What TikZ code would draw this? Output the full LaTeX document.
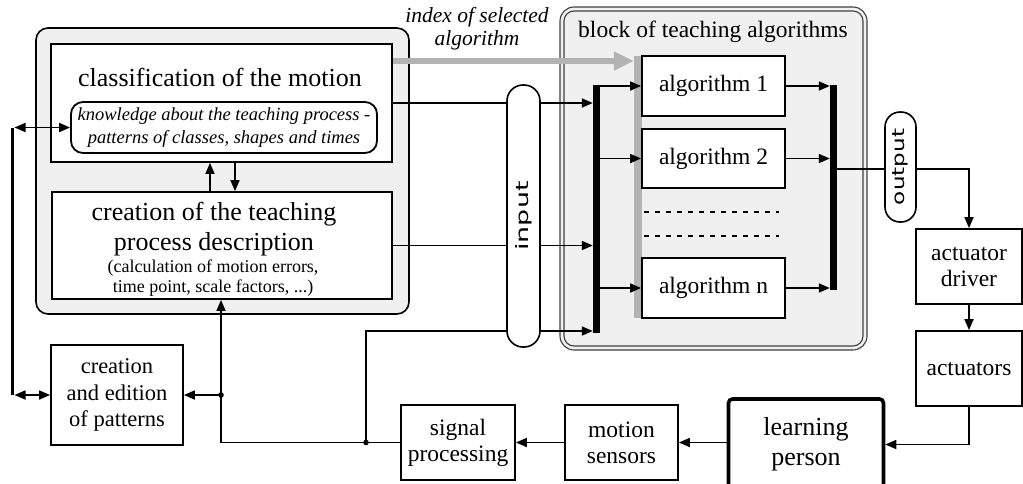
\documentclass[tikz,border=0pt]{standalone}
\usepackage{fontspec}
\usepackage{graphicx}
\setmainfont{Liberation Serif}
\newfontfamily\pillfont{DejaVu Sans}
\usetikzlibrary{arrows.meta}
\definecolor{panel}{HTML}{F0F0F0}
\definecolor{selgray}{HTML}{B3B3B3}
\newcommand\bigtxt{\fontsize{26}{30}\selectfont}
\newcommand\midtxt{\fontsize{23.5}{26}\selectfont}
\newcommand\smltxt{\fontsize{18}{20}\selectfont}
\newcommand\pattxt{\fontsize{22.5}{26.5}\selectfont}
\newcommand\knowtxt{\fontsize{18.5}{23.5}\selectfont\itshape}
\newcommand\idxtxt{\fontsize{21.5}{23}\selectfont\itshape}
\newcommand\pilltxt{\pillfont\fontsize{17}{17}\selectfont}
\begin{document}
\begin{tikzpicture}[x=1pt,y=-1pt,
  box/.style={draw, line width=1.8pt, fill=white, inner sep=0pt, align=center},
  arr/.style={line width=1.7pt, -{Triangle[length=11pt,width=9pt]}},
  darr/.style={line width=1.7pt, {Triangle[length=11pt,width=9pt]}-{Triangle[length=11pt,width=9pt]}},
  bus/.style={fill=black, draw=none, inner sep=0pt, minimum width=7pt},
  pill/.style={draw, line width=1.6pt, fill=white, inner sep=0pt},
  frame/.style={draw=black!75, line width=1.1pt, inner sep=0pt},
  dashline/.style={line width=2.8pt, dash pattern=on 5pt off 6pt},
  junction/.style={fill=black}
  ]
\useasboundingbox (0,0) rectangle (1023,483);

% grey panel holding the classification and description stages
\node[draw, line width=1.6pt, fill=panel, rounded corners=12pt, inner sep=0pt,
      minimum width=373pt, minimum height=286pt] (panelL) at (222.5,171) {};

% block of teaching algorithms (double rounded frame)
\node[frame, fill=panel, rounded corners=14pt, minimum width=307pt, minimum height=343pt] (blkout) at (713.5,178.5) {};
\node[frame, rounded corners=10pt, minimum width=299pt, minimum height=335pt] (blkin) at (713.5,178.5) {};
\node[anchor=base, font=\midtxt] (blktitle) at (713,37.5) {block of teaching algorithms};

% classification stage
\node[box, minimum width=341pt, minimum height=118pt] (cls) at (221.5,103) {};
\node[anchor=base, font=\bigtxt] (clstitle) at (220,86) {classification of the motion};
\node[box, rounded corners=12pt, minimum width=306pt, minimum height=51pt, font=\knowtxt] (know) at (224,127.5)
  {knowledge about the teaching process -\\patterns of classes, shapes and times};

% description stage
\node[box, minimum width=340pt, minimum height=107pt] (desc) at (222,245.5) {};
\node[align=center, font=\bigtxt, inner sep=0pt] (desctitle) at (214,229) {creation of the teaching\\process description};
\node[align=center, font=\smltxt, inner sep=0pt] (descnote) at (213,278) {(calculation of motion errors,\\time point, scale factors, ...)};

% pattern editor
\node[box, minimum width=132pt, minimum height=100pt, font=\pattxt] (pat) at (117,395) {creation\\and edition\\of patterns};

% selector bar and algorithms
\node[fill=selgray, inner sep=0pt, minimum width=8pt, minimum height=262pt] (gbar) at (638,187) {};
\node[box, minimum width=143pt, minimum height=60pt, font=\midtxt] (alg1) at (713.5,86) {algorithm 1};
\node[box, minimum width=143pt, minimum height=59pt, font=\midtxt] (alg2) at (713.5,158.5) {algorithm 2};
\node[box, minimum width=143pt, minimum height=60pt, font=\midtxt] (algn) at (713.5,288) {algorithm n};

% input / output buses
\node[bus, minimum height=248pt] (busin) at (596.5,209) {};
\node[bus, minimum height=205pt] (busout) at (833.5,187.5) {};

% actuation and sensing chain
\node[box, minimum width=106pt, minimum height=75pt, font=\midtxt] (drv) at (969,266.5) {actuator\\driver};
\node[box, minimum width=106pt, minimum height=75pt, font=\midtxt] (act) at (969,368.5) {actuators};
\node[box, line width=3.6pt, rounded corners=4pt, minimum width=155pt, minimum height=91pt, font=\bigtxt] (person) at (806,444.5) {learning\\person};
\node[box, minimum width=113pt, minimum height=75pt, font=\midtxt] (sens) at (621.5,442.5) {motion\\sensors};
\node[box, minimum width=114pt, minimum height=75pt, font=\midtxt] (sig) at (458,442.5) {signal\\processing};

% label of the selector arrow
\node[align=center, font=\idxtxt, inner sep=0pt] (idx) at (477,28.5) {index of selected\\algorithm};

% helper coordinates
\coordinate (j1) at (366,442.5);
\coordinate (j2) at (221,442.5);
\coordinate (fby) at (0,331);
\coordinate (oy) at (0,169);
\coordinate (gy) at (0,61);
\coordinate (upx) at (210,0);
\coordinate (dnx) at (235,0);
\coordinate (lbx) at (12.5,0);
\coordinate (lbe) at (14.5,0);
\coordinate (dsh1a) at (644,212);
\coordinate (dsh1b) at (779,212);
\coordinate (dsh2a) at (644,236);
\coordinate (dsh2b) at (779,236);

% dotted placeholders for further algorithms
\draw[dashline] (dsh1a) -- (dsh1b);
\draw[dashline] (dsh2a) -- (dsh2b);

% stage links into the input bus
\draw[arr] (cls.east) -- (cls.east -| busin.west);
\draw[arr] (desc.east) -- (desc.east -| busin.west);
\draw[arr] (j1) |- (busin.west |- fby);

% bus to algorithms to bus
\draw[arr] (busin.east |- alg1) -- (alg1.west);
\draw[arr] (busin.east |- alg2) -- (alg2.west);
\draw[arr] (busin.east |- algn) -- (algn.west);
\draw[arr] (alg1.east) -- (alg1.east -| busout.west);
\draw[arr] (alg2.east) -- (alg2.east -| busout.west);
\draw[arr] (algn.east) -- (algn.east -| busout.west);

% output to actuators and the person
\draw[arr] (busout.east |- oy) -| (drv.north);
\draw[arr] (drv.south) -- (act.north);
\draw[arr] (act.south) |- (person.east);
\draw[arr] (person.west |- sens.east) -- (sens.east);
\draw[arr] (sens.west) -- (sig.east);

% measured signal back to the description stage and pattern editor
\draw[arr] (sig.west) -- (j2) -- (j2 |- desc.south);
\draw[arr] (j2 |- pat.east) -- (pat.east);
\fill[junction] (j1) circle (2.8pt);
\fill[junction] (j2 |- pat.east) circle (2.8pt);

% exchange between classification and description
\draw[arr] (desc.north -| upx) -- (cls.south -| upx);
\draw[arr] (cls.south -| dnx) -- (desc.north -| dnx);

% pattern store link
\draw[line width=3.4pt] (lbx |- know.west) -- (lbx |- pat.west);
\draw[darr] (lbe |- know.west) -- (know.west);
\draw[darr] (lbe |- pat.west) -- (pat.west);

% input and output pills over the lines
\node[pill, rounded corners=16pt, minimum width=33pt, minimum height=262pt] (inp) at (523.5,216)
  {\rotatebox{90}{\pilltxt\scalebox{1.58}[1]{input}}};
\node[pill, rounded corners=15pt, minimum width=31pt, minimum height=110pt] (outp) at (900.5,167)
  {\rotatebox{90}{\pilltxt\scalebox{1.36}[1]{output}}};

% selected algorithm index
\draw[selgray, line width=6.5pt, -{Triangle[length=20pt,width=18pt]}] (cls.east |- gy) -- (gbar.west |- gy);
\end{tikzpicture}
\end{document}
